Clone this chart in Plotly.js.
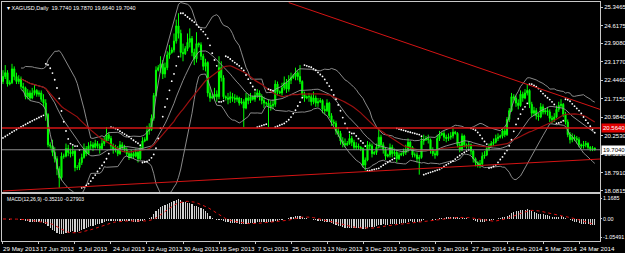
<!DOCTYPE html>
<html><head><meta charset="utf-8">
<script src="https://cdn.plot.ly/plotly-3.0.1.min.js"></script>
<style>html,body{margin:0;padding:0;background:#000;}#chart{width:625px;height:253px;}</style>
</head><body><div id="chart"></div>
<script>
// ---- data (bar index 0 = 29 May 2013) ----
const opens = [22.40,22.60,22.75,22.30,22.35,22.90,22.60,22.40,22.50,22.20, 22.15,21.80,21.95,21.75,21.95,22.05,21.90,21.95,21.70,21.55, 21.10,19.90,19.85,19.60,19.35,18.95,18.60,19.45,19.45,19.75, 19.60,19.55,19.65,19.00,19.00,19.20,19.40,19.75,19.55,19.85, 19.90,19.80,19.95,19.85,19.75,19.95,20.05,20.30,20.15,19.85, 19.70,19.75,19.55,19.90,19.80,19.70,19.55,19.40,19.55,19.45, 19.60,19.35,19.75,20.05,20.10,20.45,20.50,20.95,21.85,22.85, 22.95,23.10,22.70,22.95,23.45,23.55,23.65,24.00,24.60,24.30, 23.55,23.50,23.70,23.95,24.10,23.55,23.30,23.90,23.85,23.40, 23.00,23.15,21.95,21.75,21.80,21.90,21.80,22.95,22.55,21.80, 21.75,21.70,21.80,21.75,21.70,21.75,21.55,21.60,21.35,21.75, 21.65,21.80,21.70,21.85,21.95,21.80,21.65,21.55,21.55,21.40, 21.45,21.50,22.30,22.00,21.95,22.15,22.35,22.10,22.45,22.55, 22.60,22.75,22.60,22.40,21.90,21.75,21.80,21.80,21.60,21.75, 21.55,21.60,21.65,21.30,21.25,21.55,21.05,20.80,20.75,20.45, 20.35,20.05,19.95,19.90,19.95,20.15,20.00,19.80,19.85,19.80, 19.75,19.10,19.30,19.90,19.85,19.55,19.60,19.80,20.20,19.90, 19.70,19.45,19.50,19.80,19.55,19.60,19.35,19.50,19.55,19.60, 19.70,20.00,19.80,19.50,19.50,19.35,19.40,20.05,20.10,20.15, 20.10,19.70,19.55,19.50,20.15,20.30,20.35,20.20,20.15,20.20, 20.25,20.40,20.35,19.90,19.70,20.25,19.90,19.85,19.90,19.65, 19.35,19.20,19.10,19.15,19.45,19.50,19.75,19.85,19.95,20.00, 20.15,20.20,20.25,20.45,20.30,20.90,21.25,21.80,21.75,21.55, 21.45,21.90,21.75,21.95,22.05,21.50,21.15,21.25,21.05,21.00, 21.40,21.20,21.25,21.20,20.95,20.90,21.00,21.30,21.45,21.50, 21.10,20.80,20.30,20.10,20.20,20.15,20.10,19.90,19.85,19.90, 19.95,19.80,19.75,19.774];
const highs = [22.85,23.05,22.85,22.45,23.10,23.00,22.75,22.65,22.60,22.35, 22.20,22.10,22.05,22.15,22.30,22.10,22.05,22.05,21.90,21.70, 21.15,20.00,20.10,19.80,19.45,19.05,19.60,19.55,19.95,19.90, 19.75,19.85,19.70,19.10,19.35,19.55,19.95,19.85,20.00,20.05, 20.00,20.10,20.05,19.95,20.15,20.20,20.60,20.40,20.25,19.95, 19.90,19.85,20.05,20.00,19.90,19.80,19.65,19.70,19.65,19.75, 19.65,19.85,20.20,20.20,20.65,20.75,21.10,21.95,23.00,23.05, 23.40,23.25,23.15,23.60,23.85,23.75,24.30,24.85,25.10,24.45, 23.90,23.80,24.30,24.50,24.20,23.70,24.35,23.95,23.95,23.50, 23.30,23.20,22.20,21.90,22.15,22.05,23.40,23.20,22.65,21.85, 21.95,22.00,21.95,21.90,21.85,21.80,21.75,21.70,21.95,21.90, 21.95,21.85,22.00,22.10,22.05,21.90,21.80,21.60,21.70,21.65, 21.70,22.45,22.40,22.05,22.35,22.60,22.50,22.65,22.75,22.70, 22.95,22.85,23.05,22.45,22.00,21.85,21.95,21.90,22.00,21.85, 21.75,21.75,21.70,21.45,21.70,21.60,21.15,20.90,20.85,20.60, 20.45,20.20,20.15,20.05,20.35,20.25,20.10,20.00,19.95,19.85, 19.80,19.40,20.05,20.00,19.95,19.65,19.95,20.55,20.30,20.00, 19.80,19.55,19.95,19.90,19.75,19.70,19.60,19.60,19.75,19.90, 20.15,20.05,19.85,19.60,19.60,19.50,20.20,20.30,20.25,20.30, 20.15,19.80,19.65,20.30,20.45,20.40,20.45,20.30,20.35,20.40, 20.55,20.45,20.40,20.00,20.35,20.30,19.95,20.05,19.95,19.70, 19.40,19.25,19.30,19.60,19.65,19.85,19.95,20.05,20.15,20.30, 20.35,20.30,20.55,20.55,21.00,21.35,21.95,21.90,21.85,21.70, 22.05,22.00,22.10,22.30,22.10,21.60,21.40,21.35,21.15,21.55, 21.50,21.35,21.40,21.30,21.05,21.15,21.45,21.60,21.70,21.55, 21.20,20.90,20.40,20.35,20.30,20.25,20.20,19.95,20.05,20.05, 20.00,19.85,19.85,19.787];
const lows = [22.30,22.50,22.20,22.25,22.30,22.45,22.30,22.30,22.10,22.00, 21.70,21.70,21.65,21.70,21.85,21.80,21.80,21.60,21.40,20.85, 19.80,19.75,19.45,19.20,18.70,18.20,18.50,19.35,19.40,19.45, 19.40,19.45,18.85,18.90,18.90,19.10,19.35,19.45,19.50,19.70, 19.65,19.75,19.75,19.55,19.70,19.85,20.00,20.05,19.70,19.55, 19.60,19.45,19.50,19.70,19.60,19.45,19.30,19.35,19.35,19.40, 19.20,19.30,19.70,20.00,20.05,20.30,20.45,20.85,21.80,22.80, 22.75,22.50,22.55,22.85,23.30,23.50,23.55,23.90,24.10,23.35, 23.20,23.45,23.60,23.75,23.40,23.05,23.15,23.75,23.25,22.85, 22.80,21.80,21.60,21.70,21.65,21.60,21.70,22.40,21.70,21.65, 21.50,21.55,21.60,21.55,21.60,21.45,21.50,20.60,21.30,21.50, 21.55,21.65,21.60,21.75,21.65,21.50,21.35,21.45,20.60,21.25, 21.30,21.40,21.85,21.90,21.85,22.05,21.95,22.00,22.30,22.50, 22.45,22.45,22.30,21.80,21.60,21.70,21.60,21.45,21.50,21.40, 21.40,21.55,21.15,21.10,21.20,20.95,20.65,20.65,20.30,20.20, 19.90,19.80,19.80,19.85,19.90,19.85,19.70,19.70,19.70,19.65, 19.00,18.88,19.25,19.70,19.40,19.50,19.50,19.75,19.75,19.55, 19.30,19.40,19.40,19.40,19.45,19.20,19.30,19.45,19.45,19.50, 19.60,19.70,19.40,19.40,19.20,18.72,19.35,19.90,20.05,19.95, 19.55,19.45,19.35,19.45,20.05,20.25,20.05,20.00,20.05,20.10, 20.15,20.30,19.80,19.60,19.65,19.80,19.75,19.75,19.50,19.20, 19.05,19.00,18.98,19.10,19.35,19.45,19.65,19.80,19.85,19.95, 20.05,20.15,20.15,20.20,20.25,20.80,21.20,21.65,21.40,21.30, 21.40,21.60,21.70,21.85,21.35,21.00,21.05,20.90,20.85,20.95, 21.10,21.10,21.05,20.80,20.75,20.80,20.95,21.20,21.35,21.00, 20.70,20.20,19.95,20.00,20.05,19.95,19.80,19.75,19.75,19.80, 19.70,19.65,19.65,19.664];
const closes = [22.60,22.75,22.30,22.35,22.90,22.60,22.40,22.50,22.20,22.15, 21.80,21.95,21.75,21.95,22.05,21.90,21.95,21.70,21.55,21.10, 19.90,19.85,19.60,19.35,18.95,18.60,19.45,19.45,19.75,19.60, 19.55,19.65,19.00,19.00,19.20,19.40,19.75,19.55,19.85,19.90, 19.80,19.95,19.85,19.75,19.95,20.05,20.30,20.15,19.85,19.70, 19.75,19.55,19.90,19.80,19.70,19.55,19.40,19.55,19.45,19.60, 19.35,19.75,20.05,20.10,20.45,20.50,20.95,21.85,22.85,22.95, 23.10,22.70,22.95,23.45,23.55,23.65,24.00,24.60,24.30,23.55, 23.50,23.70,23.95,24.10,23.55,23.30,23.90,23.85,23.40,23.00, 23.15,21.95,21.75,21.80,21.90,21.80,22.95,22.55,21.80,21.75, 21.70,21.80,21.75,21.70,21.75,21.55,21.60,21.35,21.75,21.65, 21.80,21.70,21.85,21.95,21.80,21.65,21.55,21.55,21.40,21.45, 21.50,22.30,22.00,21.95,22.15,22.35,22.10,22.45,22.55,22.60, 22.75,22.60,22.40,21.90,21.75,21.80,21.80,21.60,21.75,21.55, 21.60,21.65,21.30,21.25,21.55,21.05,20.80,20.75,20.45,20.35, 20.05,19.95,19.90,19.95,20.15,20.00,19.80,19.85,19.80,19.75, 19.10,19.30,19.90,19.85,19.55,19.60,19.80,20.20,19.90,19.70, 19.45,19.50,19.80,19.55,19.60,19.35,19.50,19.55,19.60,19.70, 20.00,19.80,19.50,19.50,19.35,19.40,20.05,20.10,20.15,20.10, 19.70,19.55,19.50,20.15,20.30,20.35,20.20,20.15,20.20,20.25, 20.40,20.35,19.90,19.70,20.25,19.90,19.85,19.90,19.65,19.35, 19.20,19.10,19.15,19.45,19.50,19.75,19.85,19.95,20.00,20.15, 20.20,20.25,20.45,20.30,20.90,21.25,21.80,21.75,21.55,21.45, 21.90,21.75,21.95,22.05,21.50,21.15,21.25,21.05,21.00,21.40, 21.20,21.25,21.20,20.95,20.90,21.00,21.30,21.45,21.50,21.10, 20.80,20.30,20.10,20.20,20.15,20.10,19.90,19.85,19.90,19.95, 19.80,19.75,19.77,19.704];

const dateTickBars = [0,16,32,48,64,80,96,112,128,144,160,176,192,208,224,240,256];
const dateTickLabels = ['29 May 2013','17 Jun 2013','5 Jul 2013','24 Jul 2013','12 Aug 2013','30 Aug 2013','18 Sep 2013','7 Oct 2013','25 Oct 2013','13 Nov 2013','3 Dec 2013','20 Dec 2013','8 Jan 2014','27 Jan 2014','14 Feb 2014','5 Mar 2014','24 Mar 2014'];
const priceTickVals = [25.3465,24.6175,23.908,23.177,22.446,21.715,20.984,20.253,19.522,18.791,18.0815];
const priceTickText = ['25.3465','24.6175','23.9080','23.1770','22.4460','21.7150','20.9840','20.2530','19.5220','18.7910','18.0815'];
const macdTickVals = [1.1685,0,-1.05491];
const macdTickText = ['1.1685','0.00','-1.05491'];

const upperTrendX = [127,266];
const upperTrendY = [25.52,21.28];
const lowerTrendX = [0,266];
const lowerTrendY = [18.074,19.34];
const levelLine = 20.564;
const levelLabel = '20.5640';
const lastPrice = 19.704;
const lastLabel = '19.7040';
const headerText = '\u25BE XAGUSD,Daily  19.7740 19.7870 19.6640 19.7040';
const macdText = 'MACD(12,26,9) -0.35210 -0.27903';

// indicator settings
const bbPeriod = 20, bbDev = 2, bbStart = 8;
const maPeriod = 34;
const sarStep = 0.02, sarMax = 0.2, sarSeed = 20.17, sarSeedEp = 23.1;
const macdFast = 12, macdSlow = 26, macdSignal = 9;

// ---- indicators computed from the bars ----
const n = closes.length;
const idx = closes.map((_, i) => i);
function smaAt(a, p, i){ let s=0,c=0; for(let k=Math.max(0,i-p+1);k<=i;k++){s+=a[k];c++;} return s/c; }
function sdAt(a, p, i, m){ let s=0,c=0; for(let k=Math.max(0,i-p+1);k<=i;k++){s+=(a[k]-m)*(a[k]-m);c++;} return Math.sqrt(s/c); }
const bbX=[], bbMid=[], bbUp=[], bbLo=[];
for(let i=bbStart;i<n;i++){ const m=smaAt(closes,bbPeriod,i); const sd=sdAt(closes,bbPeriod,i,m); bbX.push(i); bbMid.push(m); bbUp.push(m+bbDev*sd); bbLo.push(m-bbDev*sd); }
const maX=[], maY=[];
for(let i=bbStart;i<n;i++){ maX.push(i); maY.push(smaAt(closes,maPeriod,i)); }

// parabolic SAR
const sar=[]; let up=true, af=sarStep, ep=sarSeedEp, s=sarSeed;
for(let i=0;i<n;i++){
  if(i>0) s = s + af*(ep-s);
  if(up){
    if(i>0) s=Math.min(s,lows[i-1]); if(i>1) s=Math.min(s,lows[i-2]);
    if(lows[i]<s){ up=false; s=ep; ep=lows[i]; af=sarStep; }
    else if(highs[i]>ep){ ep=highs[i]; af=Math.min(af+sarStep,sarMax); }
  } else {
    if(i>0) s=Math.max(s,highs[i-1]); if(i>1) s=Math.max(s,highs[i-2]);
    if(highs[i]>s){ up=true; s=ep; ep=highs[i]; af=sarStep; }
    else if(lows[i]<ep){ ep=lows[i]; af=Math.min(af+sarStep,sarMax); }
  }
  sar.push(s);
}
// MACD
function ema(a,p){ const k=2/(p+1); const o=[a[0]]; for(let i=1;i<a.length;i++) o.push(a[i]*k+o[i-1]*(1-k)); return o; }
const eF=ema(closes,macdFast), eS=ema(closes,macdSlow);
const macd=closes.map((_,i)=>eF[i]-eS[i]);
const signal=macd.map((_,i)=>smaAt(macd,macdSignal,i));

const red='#d41414', grey='#9a9a9a';
const traces = [
  {type:'scatter',mode:'lines',x:bbX,y:bbUp,line:{color:grey,width:0.9},xaxis:'x',yaxis:'y'},
  {type:'scatter',mode:'lines',x:bbX,y:bbLo,line:{color:grey,width:0.9},xaxis:'x',yaxis:'y'},
  {type:'scatter',mode:'lines',x:bbX,y:bbMid,line:{color:grey,width:0.9},xaxis:'x',yaxis:'y'},
  {type:'scatter',mode:'lines',x:maX,y:maY,line:{color:'#9a1010',width:1.2},xaxis:'x',yaxis:'y'},
  {type:'candlestick',x:idx,open:opens,high:highs,low:lows,close:closes,xaxis:'x',yaxis:'y',whiskerwidth:0,
    increasing:{line:{color:'#00ff00',width:1},fillcolor:'#00e000'},
    decreasing:{line:{color:'#00ff00',width:1},fillcolor:'#00ff00'}},
  {type:'scatter',mode:'markers',x:idx,y:sar,marker:{color:'#ffffff',size:1.8},xaxis:'x',yaxis:'y'},
  {type:'scatter',mode:'lines',x:upperTrendX,y:upperTrendY,line:{color:red,width:1},xaxis:'x',yaxis:'y'},
  {type:'scatter',mode:'lines',x:lowerTrendX,y:lowerTrendY,line:{color:red,width:1},xaxis:'x',yaxis:'y'},
  {type:'scatter',mode:'lines',x:[-1,270],y:[levelLine,levelLine],line:{color:red,width:1.5},xaxis:'x',yaxis:'y'},
  {type:'scatter',mode:'lines',x:[-1,270],y:[lastPrice,lastPrice],line:{color:'#8c8c8c',width:1},xaxis:'x',yaxis:'y'},
  {type:'bar',x:idx,y:macd,marker:{color:'#d0d0d0',line:{width:0}},width:0.45,xaxis:'x2',yaxis:'y2'},
  {type:'scatter',mode:'lines',x:idx,y:signal,line:{color:'#e01010',width:1,dash:'dot'},xaxis:'x2',yaxis:'y2'}
];

const xr=[-0.44,265.33];
const axisLine='#c8c8c8';
const layout = {
  width:625,height:253,margin:{l:2,r:25,t:2,b:12,pad:0},
  paper_bgcolor:'#000',plot_bgcolor:'#000',showlegend:false,hovermode:false,bargap:0,
  font:{family:'Liberation Sans, Arial, sans-serif',size:6,color:'#ffffff'},
  xaxis:{domain:[0,1],anchor:'y',range:xr,showticklabels:false,ticks:'',showgrid:false,zeroline:false,showline:true,mirror:true,linecolor:axisLine,linewidth:1,rangeslider:{visible:false},fixedrange:true},
  xaxis2:{domain:[0,1],anchor:'y2',range:xr,tickmode:'array',tickvals:dateTickBars,ticktext:dateTickLabels,tickangle:0,ticks:'outside',ticklen:2,tickcolor:axisLine,ticklabelshift:18,ticklabelstandoff:0,tickfont:{size:6.2,color:'#ffffff'},showgrid:false,zeroline:false,showline:true,mirror:true,linecolor:axisLine,linewidth:1},
  yaxis:{domain:[0.205,1],anchor:'x',side:'right',range:[18.034,25.544],tickmode:'array',tickvals:priceTickVals,ticktext:priceTickText,ticks:'outside',ticklen:2,tickcolor:axisLine,tickfont:{size:6,color:'#ffffff'},showgrid:false,zeroline:false,showline:true,mirror:true,linecolor:axisLine,linewidth:1},
  yaxis2:{domain:[0,0.197],anchor:'x2',side:'right',range:[-1.257,1.43],tickmode:'array',tickvals:macdTickVals,ticktext:macdTickText,ticks:'outside',ticklen:1,ticklabelstandoff:0,tickcolor:axisLine,tickfont:{size:5.4,color:'#ffffff'},showgrid:false,zeroline:false,showline:true,mirror:true,linecolor:axisLine,linewidth:1},
  annotations:[
    {xref:'paper',yref:'paper',x:0.005,y:0.975,xanchor:'left',yanchor:'middle',text:headerText,showarrow:false,font:{size:5.5,color:'#ffffff'}},
    {xref:'paper',yref:'paper',x:0.005,y:0.176,xanchor:'left',yanchor:'middle',text:macdText,showarrow:false,font:{size:5,color:'#ffffff'}},
    {xref:'paper',yref:'y',x:1.0017,y:levelLine,xanchor:'left',yanchor:'middle',text:levelLabel,showarrow:false,bgcolor:'#e00000',borderpad:1,font:{size:6,color:'#ffffff'}},
    {xref:'paper',yref:'y',x:1.0017,y:lastPrice,xanchor:'left',yanchor:'middle',text:lastLabel,showarrow:false,bgcolor:'#ffffff',borderpad:1,font:{size:6,color:'#000000'}}
  ]
};
Plotly.newPlot('chart',traces,layout,{staticPlot:true,displayModeBar:false});
</script></body></html>
